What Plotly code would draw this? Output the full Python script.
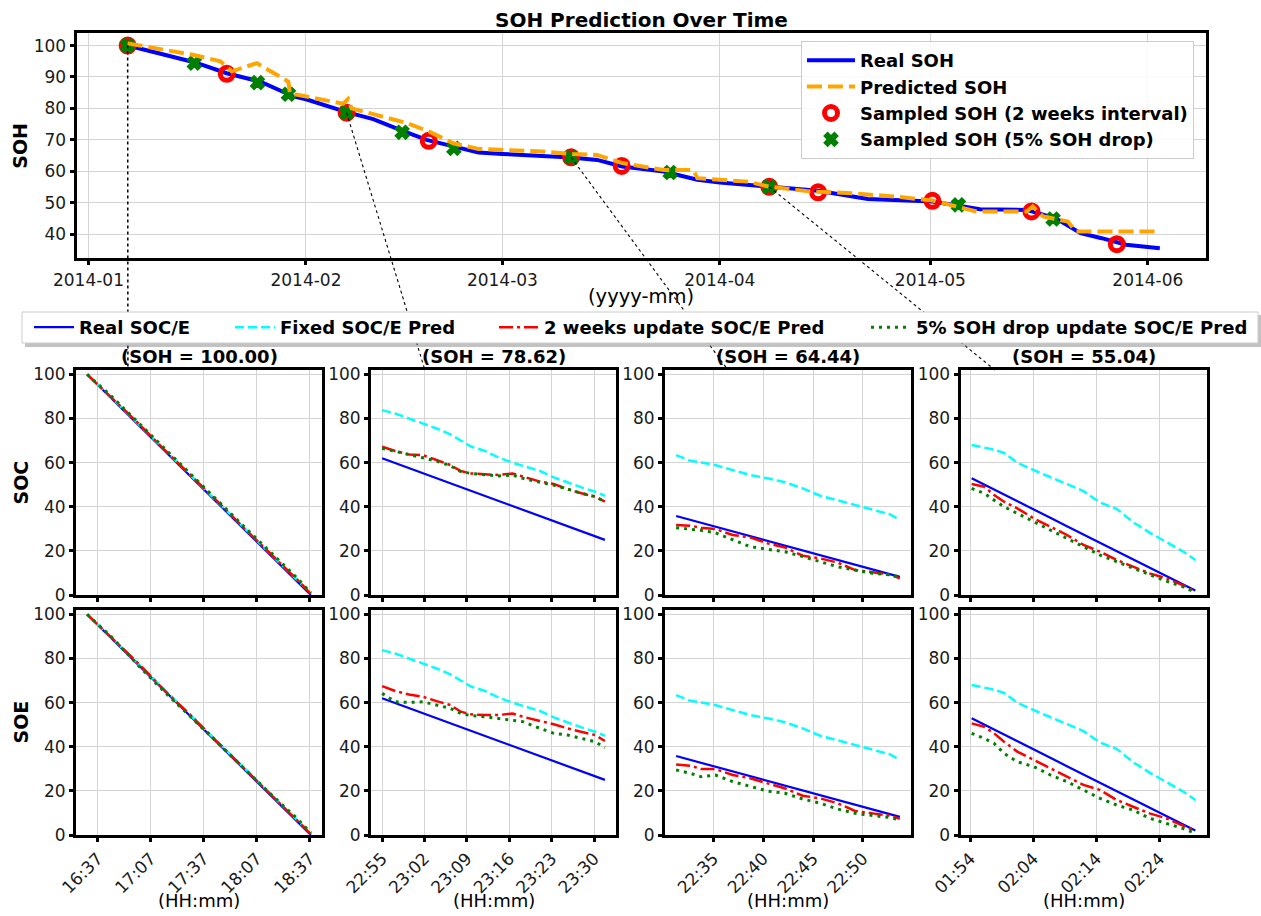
import pandas as pd
import plotly.graph_objects as go

W, H = 1261, 916
FONT = "DejaVu Sans"

# ---------------- top chart data ----------------
real_soh_dates = ["2014-01-06 14:00", "2014-01-16 02:00", "2014-01-20 17:00", "2014-01-25 12:00",
                  "2014-01-30 05:00", "2014-02-01 00:00", "2014-02-06 19:00", "2014-02-10 14:00",
                  "2014-02-14 10:00", "2014-02-18 05:00", "2014-02-22 00:00", "2014-02-25 14:00",
                  "2014-03-01 00:00", "2014-03-06 19:00", "2014-03-10 19:00", "2014-03-14 12:00",
                  "2014-03-18 02:00", "2014-03-24 00:00", "2014-03-28 19:00", "2014-04-01 00:00",
                  "2014-04-08 01:00", "2014-04-15 00:00", "2014-04-22 02:00", "2014-04-28 14:00",
                  "2014-05-01 07:00", "2014-05-08 02:00", "2014-05-14 17:00", "2014-05-18 19:00",
                  "2014-05-22 10:00", "2014-05-25 10:00", "2014-05-28 22:00", "2014-06-02 17:00"]
real_soh = [100.0, 94.7, 91.2, 88.5, 83.8, 82.9, 78.8, 76.6, 73.2, 70.0, 67.9, 66.0,
            65.5, 64.9, 64.4, 63.6, 61.5, 59.9, 57.3, 56.4, 55.1, 53.8, 51.2, 50.7,
            50.4, 47.9, 47.7, 45.1, 40.3, 38.7, 36.6, 35.5]

pred_soh_dates = ["2014-01-06 14:00", "2014-01-16 00:00", "2014-01-19 19:00", "2014-01-21 10:00",
                  "2014-01-25 00:00", "2014-01-29 12:00", "2014-01-29 17:00", "2014-02-06 07:00",
                  "2014-02-07 00:00", "2014-02-07 12:00", "2014-02-15 10:00", "2014-02-18 14:00",
                  "2014-02-22 00:00", "2014-02-25 14:00", "2014-03-06 19:00", "2014-03-11 00:00",
                  "2014-03-14 12:00", "2014-03-18 02:00", "2014-03-24 00:00", "2014-03-28 05:00",
                  "2014-03-28 19:00", "2014-04-04 22:00", "2014-04-08 00:00", "2014-04-13 19:00",
                  "2014-04-19 17:00", "2014-04-25 17:00", "2014-05-01 07:00", "2014-05-05 10:00",
                  "2014-05-07 14:00", "2014-05-14 17:00", "2014-05-15 14:00", "2014-05-17 02:00",
                  "2014-05-20 14:00", "2014-05-21 19:00", "2014-06-02 17:00"]
pred_soh = [100.7, 97.0, 95.0, 91.8, 94.4, 88.5, 84.8, 81.5, 83.0, 80.0,
            75.3, 72.6, 68.9, 67.1, 66.3, 65.5, 65.2, 62.6, 60.4, 60.4,
            57.8, 56.7, 55.1, 53.6, 53.0, 52.0, 50.7, 48.3, 47.2, 47.2,
            48.8, 45.6, 44.0, 40.8, 40.8]

two_week_dates = ["2014-01-06 14:00", "2014-01-20 17:00", "2014-02-06 19:00", "2014-02-18 12:00",
                  "2014-03-10 19:00", "2014-03-18 00:00", "2014-04-08 01:00", "2014-04-15 00:00",
                  "2014-05-01 07:00", "2014-05-15 10:00", "2014-05-27 14:00"]
two_week_soh = [100.0, 91.0, 78.62, 69.7, 64.44, 61.7, 55.04, 53.3, 50.6, 47.2, 36.8]

drop5_dates = ["2014-01-06 14:00", "2014-01-16 02:00", "2014-01-25 02:00", "2014-01-29 12:00",
               "2014-02-06 19:00", "2014-02-14 17:00", "2014-02-22 02:00", "2014-03-10 19:00",
               "2014-03-24 22:00", "2014-04-08 01:00", "2014-05-05 00:00", "2014-05-18 12:00"]
drop5_soh = [100.0, 94.4, 88.2, 84.5, 78.62, 72.4, 67.3, 64.44, 59.6, 55.04, 49.3, 44.8]

# which 2-week samples are detailed below
detail_idx = [0, 2, 4, 6]

# ---------------- detail panels data ----------------
detail_day = ["2014-01-06", "2014-02-06", "2014-03-10", "2014-04-08"]
detail_ticks = [["16:37", "17:07", "17:37", "18:07", "18:37"],
                ["22:55", "23:02", "23:09", "23:16", "23:23", "23:30"],
                ["22:35", "22:40", "22:45", "22:50"],
                ["01:54", "02:04", "02:14", "02:24"]]

times_1 = ["16:31", "16:45", "17:00", "17:15", "17:30", "17:45", "18:00", "18:15", "18:30", "18:37:30"]
real_1 = [100.0, 88.9, 77.1, 65.2, 53.4, 41.5, 29.6, 17.8, 5.9, 0.0]
fixed_1 = [100.0, 89.3, 77.6, 65.7, 53.8, 42.0, 30.2, 18.4, 6.6, 0.8]
wk_soc_1 = [100.0, 89.5, 77.8, 65.6, 54.0, 42.2, 30.1, 18.6, 6.8, 0.5]
dr_soc_1 = [100.0, 89.9, 78.1, 66.2, 54.4, 42.7, 30.8, 19.2, 7.5, 1.0]
wk_soe_1 = [100.0, 89.4, 77.7, 65.3, 53.9, 41.9, 30.0, 18.5, 6.5, 0.4]
dr_soe_1 = [100.0, 89.6, 76.8, 64.6, 53.2, 41.6, 29.8, 18.4, 7.3, 0.9]

times_2 = ["22:55:00", "22:57:10", "22:59:26", "23:01:43", "23:03:59", "23:06:16", "23:07:59", "23:09:41",
           "23:11:58", "23:14:14", "23:16:31", "23:18:13", "23:21:04", "23:23:20", "23:25:37", "23:27:54",
           "23:30:10", "23:31:46"]
real_2 = [62.0, 59.8, 57.5, 55.2, 52.9, 50.7, 48.9, 47.2, 44.9, 42.6, 40.3, 38.6, 35.8, 33.5, 31.2, 28.9, 26.6, 25.0]
fixed_2 = [83.8, 82.3, 80.0, 77.9, 75.5, 72.8, 70.2, 67.3, 65.3, 62.3, 60.0, 58.6, 56.2, 53.3, 51.0, 48.8, 46.8, 45.0]
wk_soc_2 = [67.2, 65.3, 63.7, 63.4, 61.2, 58.9, 56.2, 55.1, 54.7, 54.4, 55.1, 53.6, 51.4, 50.3, 48.0, 46.1, 44.6, 42.3]
dr_soc_2 = [66.5, 65.0, 63.7, 62.2, 60.7, 58.6, 55.9, 55.1, 54.7, 54.0, 54.4, 52.9, 51.1, 49.8, 48.0, 46.1, 44.6, 42.3]
wk_soe_2 = [67.5, 65.3, 63.7, 62.7, 60.7, 58.9, 55.9, 54.7, 54.4, 54.4, 55.1, 53.6, 51.7, 50.2, 48.3, 46.8, 45.3, 42.6]
dr_soe_2 = [64.2, 60.4, 60.1, 60.4, 58.9, 57.4, 55.1, 54.1, 53.6, 52.9, 52.1, 51.4, 48.3, 46.1, 45.3, 43.8, 42.3, 39.6]

times_3 = ["22:31:15", "22:32:43", "22:33:46", "22:35:11", "22:36:56", "22:38:41", "22:40:26", "22:42:12",
           "22:43:58", "22:45:43", "22:47:28", "22:49:13", "22:50:59", "22:52:44", "22:53:43"]
real_3 = [35.8, 34.0, 32.7, 31.0, 28.8, 26.7, 24.5, 22.3, 20.2, 18.0, 15.9, 13.7, 11.6, 9.4, 8.2]
fixed_3 = [63.4, 60.8, 60.1, 58.9, 56.6, 54.4, 52.9, 51.1, 48.3, 45.0, 42.9, 40.9, 38.7, 36.5, 34.0]
wk_soc_3 = [31.7, 31.4, 30.5, 29.9, 27.2, 26.1, 23.4, 21.5, 17.8, 16.6, 14.7, 11.3, 10.3, 9.1, 7.6]
dr_soc_3 = [30.5, 29.9, 29.3, 28.2, 24.9, 21.9, 20.7, 19.6, 17.4, 15.1, 12.8, 11.3, 9.8, 9.1, 8.2]
wk_soe_3 = [32.0, 31.4, 29.9, 29.9, 27.2, 25.7, 23.4, 21.1, 17.8, 16.6, 14.4, 10.9, 9.8, 8.8, 7.3]
dr_soe_3 = [29.5, 27.9, 26.4, 27.2, 24.2, 21.9, 19.9, 18.9, 16.3, 14.4, 11.8, 9.8, 8.8, 7.9, 6.9]

times_4 = ["01:54:13", "01:56:12", "01:57:47", "01:59:21", "02:01:27", "02:04:04", "02:06:41", "02:09:19",
           "02:11:56", "02:14:34", "02:17:11", "02:19:48", "02:22:25", "02:25:02", "02:27:40", "02:29:40"]
real_4 = [52.9, 50.0, 47.8, 45.5, 42.5, 38.7, 35.0, 31.2, 27.5, 23.7, 19.9, 16.2, 12.4, 8.6, 4.9, 2.0]
fixed_4 = [68.0, 66.8, 65.9, 64.4, 60.0, 56.6, 53.6, 50.3, 47.1, 41.9, 39.1, 33.0, 28.3, 24.2, 19.8, 15.9]
wk_soc_4 = [50.3, 49.1, 45.3, 42.3, 39.3, 34.7, 31.0, 27.2, 22.7, 19.6, 15.9, 12.8, 9.8, 7.6, 4.5, 1.5]
dr_soc_4 = [48.3, 46.1, 43.0, 40.0, 37.0, 33.2, 29.5, 25.7, 21.9, 18.1, 15.1, 12.1, 9.4, 6.3, 3.8, 1.2]
wk_soe_4 = [50.6, 49.1, 46.1, 42.3, 37.8, 34.0, 30.2, 26.4, 22.7, 20.4, 15.9, 12.8, 9.8, 7.6, 4.5, 1.8]
dr_soe_4 = [46.1, 43.8, 41.5, 37.0, 33.2, 31.0, 27.2, 24.2, 20.4, 16.6, 13.6, 11.3, 7.6, 5.3, 3.0, 0.8]

panel_times = [times_1, times_2, times_3, times_4]
panel_real = [real_1, real_2, real_3, real_4]
panel_fixed = [fixed_1, fixed_2, fixed_3, fixed_4]
panel_wk = {"SOC": [wk_soc_1, wk_soc_2, wk_soc_3, wk_soc_4], "SOE": [wk_soe_1, wk_soe_2, wk_soe_3, wk_soe_4]}
panel_dr = {"SOC": [dr_soc_1, dr_soc_2, dr_soc_3, dr_soc_4], "SOE": [dr_soe_1, dr_soe_2, dr_soe_3, dr_soe_4]}
row_names = ["SOC", "SOE"]

bottom_names = ["Real SOC/E", "Fixed SOC/E Pred", "2 weeks update SOC/E Pred", "5% SOH drop update SOC/E Pred"]

# ---------------- layout geometry (pixels -> paper) ----------------
def px_x(v):
    return v / W


def px_y(v):
    return 1 - v / H


top_xdom = [px_x(76.5), px_x(1206)]
top_ydom = [px_y(258.3), px_y(33.3)]
top_xrange = ["2013-12-30 07:00", "2014-06-09 07:00"]
top_yrange = [32.3, 103.9]
col_px = [(76, 322), (371, 616), (665, 911), (960.5, 1206.5)]
row_px = [(370, 595), (610, 835)]
col_dom = [[px_x(a), px_x(b)] for a, b in col_px]
row_dom = [[px_y(b), px_y(a)] for a, b in row_px]
conn_end_frac = [0.211, 0.22, 0.256, 0.14]

TICKFONT = dict(family=FONT, size=17, color="#1a1a1a")


def ax_style(**kw):
    d = dict(showline=True, linecolor="black", linewidth=3, mirror=True,
             ticks="outside", ticklen=4, tickwidth=2.5, tickcolor="black",
             showgrid=True, gridcolor="#d4d4d4", gridwidth=1, zeroline=False,
             tickfont=TICKFONT, automargin=False)
    d.update(kw)
    return d


fig = go.Figure()

# ---------------- top chart traces ----------------
fig.add_trace(go.Scatter(x=real_soh_dates, y=real_soh, mode="lines", name="Real SOH",
                         line=dict(color="#0000ff", width=4), legend="legend", legendrank=1))
fig.add_trace(go.Scatter(x=two_week_dates, y=two_week_soh, mode="markers",
                         name="Sampled SOH (2 weeks interval)",
                         marker=dict(symbol="circle-open", size=13, color="red",
                                     line=dict(width=5, color="red")),
                         legend="legend", legendrank=3))
fig.add_trace(go.Scatter(x=drop5_dates, y=drop5_soh, mode="markers",
                         name="Sampled SOH (5% SOH drop)",
                         marker=dict(symbol="x", size=12, color="green",
                                     line=dict(width=1.5, color="green")),
                         legend="legend", legendrank=4))
fig.add_trace(go.Scatter(x=pred_soh_dates, y=pred_soh, mode="lines", name="Predicted SOH",
                         line=dict(color="orange", width=4, dash="15px,6px"),
                         legend="legend", legendrank=2))

# ---------------- detail panel traces ----------------
styles = [dict(color="#0000ff", width=2.2),
          dict(color="cyan", width=2.5, dash="9px,4px"),
          dict(color="red", width=2.5, dash="14px,4px,3px,4px"),
          dict(color="green", width=3, dash="3px,5px")]

layout_axes = {}
for r in range(2):
    for c in range(4):
        k = 2 + r * 4 + c
        xa, ya = f"x{k}", f"y{k}"
        xs = [f"{detail_day[c]} {t}" for t in panel_times[c]]
        series = [panel_real[c], panel_fixed[c], panel_wk[row_names[r]][c], panel_dr[row_names[r]][c]]
        for s, (nm, ys, st) in enumerate(zip(bottom_names, series, styles)):
            show = (r == 0 and c == 0)
            fig.add_trace(go.Scatter(x=xs, y=ys, mode="lines", name=nm, line=st,
                                     xaxis=xa, yaxis=ya, showlegend=show,
                                     legend=f"legend{s + 2}"))
        t0 = pd.Timestamp(xs[0])
        t1 = pd.Timestamp(xs[-1])
        pad = (t1 - t0) * 0.05
        tickvals = [f"{detail_day[c]} {t}" for t in detail_ticks[c]]
        layout_axes[f"xaxis{k}"] = ax_style(
            domain=col_dom[c], anchor=ya, type="date",
            range=[str(t0 - pad), str(t1 + pad)],
            tickvals=tickvals, ticktext=detail_ticks[c],
            showticklabels=(r == 1), tickangle=-45)
        layout_axes[f"yaxis{k}"] = ax_style(
            domain=row_dom[r], anchor=xa, range=[0, 102],
            tickvals=[0, 20, 40, 60, 80, 100])

layout_axes["xaxis"] = ax_style(domain=top_xdom, anchor="y", type="date", range=top_xrange,
                                dtick="M1", tickformat="%Y-%m", tick0="2014-01-01")
layout_axes["yaxis"] = ax_style(domain=top_ydom, anchor="x", range=top_yrange,
                                tickvals=[40, 50, 60, 70, 80, 90, 100])

# ---------------- annotations ----------------
ann = []


def text(x, y, s, size=16, bold=False, angle=0):
    ann.append(dict(x=x, y=y, xref="paper", yref="paper", text=s, showarrow=False,
                    xanchor="center", yanchor="middle", textangle=angle,
                    font=dict(family=FONT, size=size, color="black",
                              weight="bold" if bold else "normal")))


text((top_xdom[0] + top_xdom[1]) / 2, px_y(20), "SOH Prediction Over Time", 20, True)
text((top_xdom[0] + top_xdom[1]) / 2, px_y(296), "(yyyy-mm)", 19.5)
text(px_x(20), (top_ydom[0] + top_ydom[1]) / 2, "SOH", 19, True, -90)
for r, nm in enumerate(row_names):
    text(px_x(20), (row_dom[r][0] + row_dom[r][1]) / 2, nm, 19, True, -90)
for c in range(4):
    cx = (col_dom[c][0] + col_dom[c][1]) / 2
    text(cx, px_y(356), f"(SOH = {two_week_soh[detail_idx[c]]:.2f})", 18, True)
    text(cx, px_y(900), "(HH:mm)", 18)


# ---------------- connector lines (computed from data via axes mapping) ----------------
def date_to_paper(d):
    t = pd.Timestamp(d).value
    r0 = pd.Timestamp(top_xrange[0]).value
    r1 = pd.Timestamp(top_xrange[1]).value
    return top_xdom[0] + (t - r0) / (r1 - r0) * (top_xdom[1] - top_xdom[0])


def val_to_paper(v):
    return top_ydom[0] + (v - top_yrange[0]) / (top_yrange[1] - top_yrange[0]) * (top_ydom[1] - top_ydom[0])


shapes = []
for c, i in enumerate(detail_idx):
    x0 = date_to_paper(two_week_dates[i])
    y0 = val_to_paper(two_week_soh[i])
    x1 = col_dom[c][0] + conn_end_frac[c] * (col_dom[c][1] - col_dom[c][0])
    y1 = row_dom[0][1]
    shapes.append(dict(type="line", xref="paper", yref="paper", x0=x0, y0=y0, x1=x1, y1=y1,
                       line=dict(color="black", width=1.5 if c == 0 else 1.1, dash="dot")))

# bottom legend frame (with shadow) covering connector lines
shapes.append(dict(type="rect", xref="paper", yref="paper",
                   x0=px_x(25), x1=px_x(1261), y0=px_y(347), y1=px_y(315),
                   fillcolor="rgba(120,120,120,0.45)", line=dict(width=0)))
shapes.append(dict(type="rect", xref="paper", yref="paper",
                   x0=px_x(22), x1=px_x(1258), y0=px_y(343), y1=px_y(312),
                   fillcolor="white", line=dict(color="#cccccc", width=1)))

LEGFONT = dict(family=FONT, size=18, color="black", weight="bold")
legends = dict(
    legend=dict(x=px_x(801), y=px_y(41), xanchor="left", yanchor="top",
                bgcolor="rgba(255,255,255,0.85)", bordercolor="#cccccc", borderwidth=1,
                font=LEGFONT, itemwidth=48),
)
leg_text_x = [81, 282, 546, 918]
for s in range(4):
    legends[f"legend{s + 2}"] = dict(x=px_x(leg_text_x[s] - 52), y=px_y(327.5), xanchor="left",
                                     yanchor="middle", bgcolor="rgba(0,0,0,0)", borderwidth=0,
                                     font=LEGFONT, orientation="h", itemwidth=40)

fig.update_layout(
    width=W, height=H, margin=dict(l=0, r=0, t=0, b=0, autoexpand=False),
    paper_bgcolor="white", plot_bgcolor="white",
    font=dict(family=FONT, size=16, color="black"),
    annotations=ann, shapes=shapes, hovermode=False,
    **legends, **layout_axes,
)

fig.write_html("out.html", config={"displayModeBar": False},
               post_script="document.body.style.margin='0';")
